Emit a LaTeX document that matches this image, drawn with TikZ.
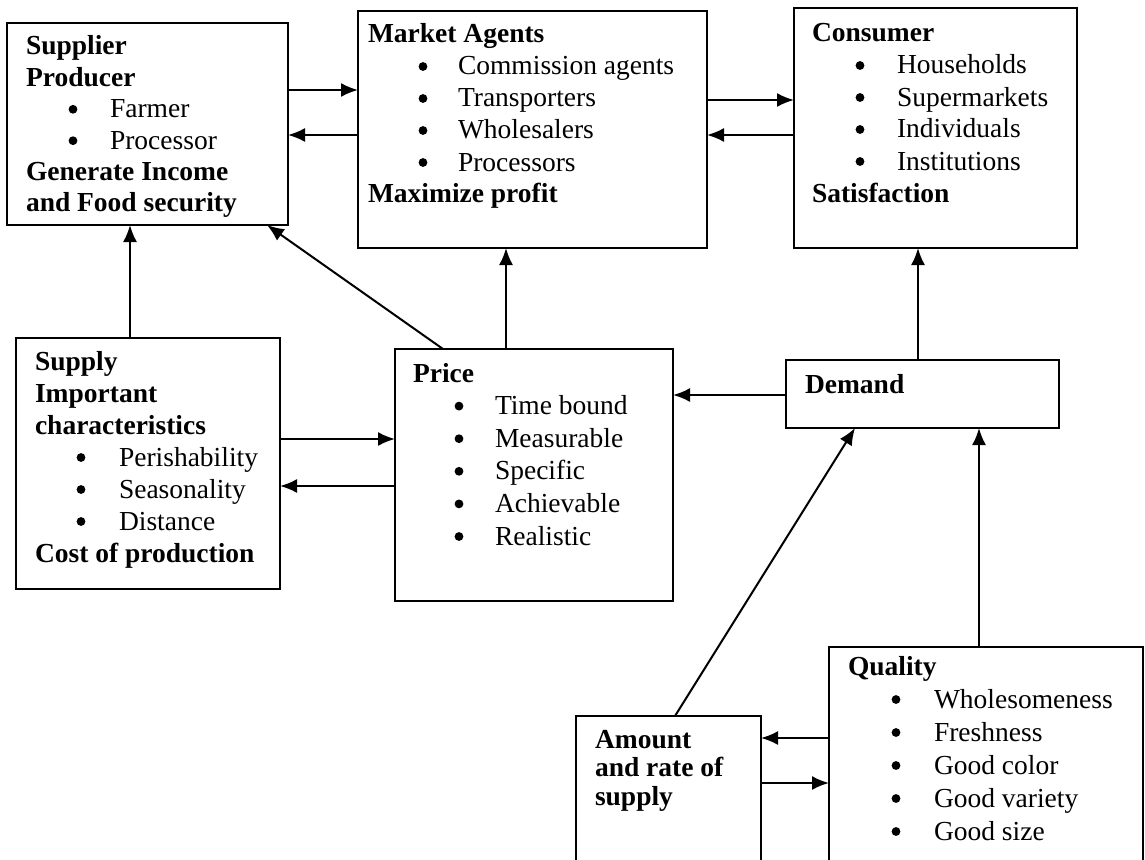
\documentclass[tikz,border=0pt]{standalone}
\usepackage{fontspec}
\setmainfont{Liberation Serif}
\usetikzlibrary{arrows.meta}
\newcommand\bdot{\tikz[baseline=0pt]\fill (0pt,8.5pt) circle (4.4pt);}
\newcommand\itm[3]{\hspace*{#1pt}\makebox[0pt]{\bdot}\hspace*{#2pt}#3}
\newcommand\boxtext[2]{\parbox[t]{330pt}{\fontsize{27.5pt}{#1pt}\selectfont\raggedright #2}}
\begin{document}
\begin{tikzpicture}[x=1pt,y=-1pt,
  box/.style={draw,line width=2pt,inner sep=0pt,outer sep=0pt,anchor=north west},
  txt/.style={anchor=base west,inner sep=0pt,outer sep=0pt},
  arr/.style={line width=2pt,-{Latex[length=17pt,width=14pt]}}]
\useasboundingbox (0,0) rectangle (1145,859);
\clip (0,0) rectangle (1145,859);
% boxes
\node[box,minimum width=281pt,minimum height=202pt] (supplier) at (7,23) {};
\node[box,minimum width=349pt,minimum height=237pt] (market) at (358,11) {};
\node[box,minimum width=283pt,minimum height=240pt] (consumer) at (794,8) {};
\node[box,minimum width=264pt,minimum height=251pt] (supply) at (16,338) {};
\node[box,minimum width=278pt,minimum height=252pt] (price) at (395,349) {};
\node[box,minimum width=273pt,minimum height=68pt] (demand) at (786,360) {};
\node[box,minimum width=185pt,minimum height=170pt] (amount) at (576,716) {};
\node[box,minimum width=314pt,minimum height=240pt] (quality) at (829,647) {};
% texts
\node[txt] (supplier-t) at (26,55) {\boxtext{31.4}{\textbf{Supplier}\\\textbf{Producer}\\\itm{47}{37}{Farmer}\\\itm{47}{37}{Processor}\\\textbf{Generate Income}\\\textbf{and Food security}}};
\node[txt] (market-t) at (368,43) {\boxtext{32}{\textbf{Market Agents}\\\itm{55}{35}{Commission agents}\\\itm{55}{35}{Transporters}\\\itm{55}{35}{Wholesalers}\\\itm{55}{35}{Processors}\\\textbf{Maximize profit}}};
\node[txt] (consumer-t) at (812,42) {\boxtext{32}{\textbf{Consumer}\\\itm{48}{37}{Households}\\\itm{48}{37}{Supermarkets}\\\itm{48}{37}{Individuals}\\\itm{48}{37}{Institutions}\\\textbf{Satisfaction}}};
\node[txt] (supply-t) at (35,370) {\boxtext{32}{\textbf{Supply}\\\textbf{Important}\\\textbf{characteristics}\\\itm{46}{38}{Perishability}\\\itm{46}{38}{Seasonality}\\\itm{46}{38}{Distance}\\\textbf{Cost of production}}};
\node[txt] (price-t) at (413,382) {\boxtext{32.6}{\textbf{Price}\\\itm{46}{36}{Time bound}\\\itm{46}{36}{Measurable}\\\itm{46}{36}{Specific}\\\itm{46}{36}{Achievable}\\\itm{46}{36}{Realistic}}};
\node[txt] (demand-t) at (805,393) {\boxtext{32}{\textbf{Demand}}};
\node[txt] (amount-t) at (595,748) {\boxtext{28.5}{\textbf{Amount}\\\textbf{and rate of}\\\textbf{supply}}};
\node[txt] (quality-t) at (848,675) {\boxtext{33}{\textbf{Quality}\\\itm{48}{38}{Wholesomeness}\\\itm{48}{38}{Freshness}\\\itm{48}{38}{Good color}\\\itm{48}{38}{Good variety}\\\itm{48}{38}{Good size}}};
% connectors
\draw[arr] (supplier.east |- 0,90) -- (market.west |- 0,90);
\draw[arr] (market.west |- 0,135) -- (supplier.east |- 0,135);
\draw[arr] (market.east |- 0,100) -- (consumer.west |- 0,100);
\draw[arr] (consumer.west |- 0,135) -- (market.east |- 0,135);
\draw[arr] (supply.north -| 130,0) -- (supplier.south -| 130,0);
\draw[arr] (price.north -| 443,0) -- (supplier.south -| 267,0);
\draw[arr] (price.north -| 506,0) -- (market.south -| 506,0);
\draw[arr] (demand.north -| 918,0) -- (consumer.south -| 918,0);
\draw[arr] (supply.east |- 0,439) -- (price.west |- 0,439);
\draw[arr] (price.west |- 0,486) -- (supply.east |- 0,486);
\draw[arr] (demand.west |- 0,395) -- (price.east |- 0,395);
\draw[arr] (amount.north -| 675,0) -- (demand.south -| 855,0);
\draw[arr] (quality.north -| 979,0) -- (demand.south -| 979,0);
\draw[arr] (quality.west |- 0,738) -- (amount.east |- 0,738);
\draw[arr] (amount.east |- 0,783) -- (quality.west |- 0,783);
\end{tikzpicture}
\end{document}
